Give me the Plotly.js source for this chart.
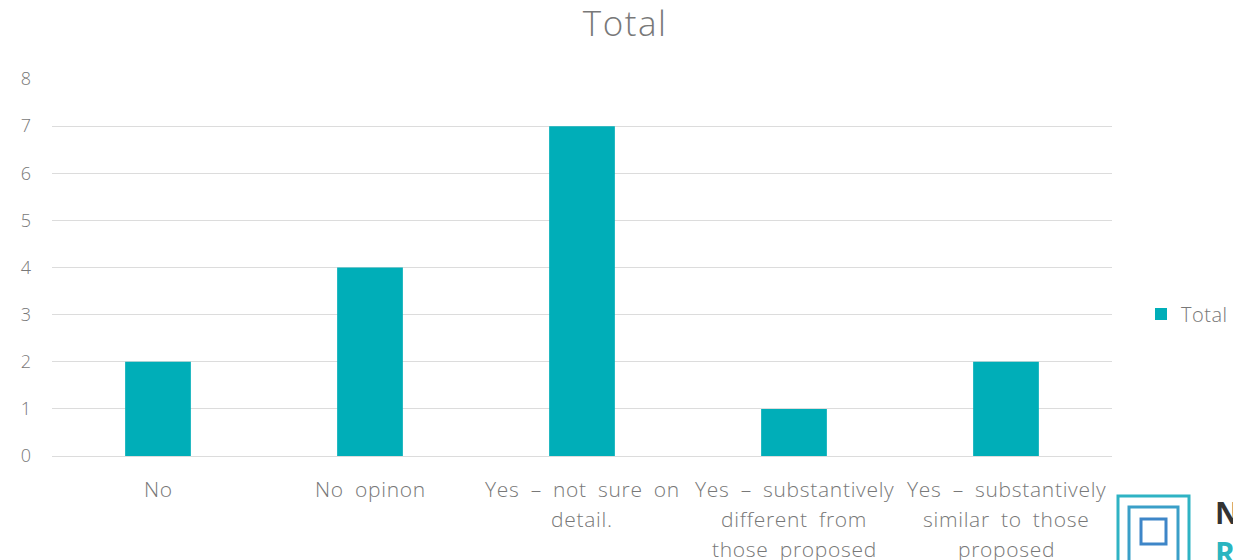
<!DOCTYPE html>
<html><head><meta charset="utf-8">
<script src="https://cdn.plot.ly/plotly-3.0.1.min.js"></script>
<style>
html,body{margin:0;padding:0;background:#fff}#chart{width:1233px;height:560px}
.annotation-text{word-spacing:5px;letter-spacing:0.7px}
.gtitle{letter-spacing:1.5px}
.legendtext{letter-spacing:0.5px}
</style>
</head><body><div id="chart"></div>
<script>
const categories = ["No", "No opinon", "Yes \u2013 not sure on detail.", "Yes \u2013 substantively different from those proposed", "Yes \u2013 substantively similar to those proposed"];
const categoryLines = [["No"], ["No opinon"], ["Yes \u2013 not sure on", "detail."], ["Yes \u2013 substantively", "different from", "those proposed"], ["Yes \u2013 substantively", "similar to those", "proposed"]];
const totals = [2, 4, 7, 1, 2];
const yTicks = [0, 1, 2, 3, 4, 5, 6, 7, 8];

const FONT = "'Open Sans', sans-serif";
const GREY = "#787878";
const PL = 52, PR = 1112, PT = 79, PB = 456;
const trace = {
  type: "bar", x: categories, y: totals, name: "Total",
  marker: {color: "#00AEB8"}, hoverinfo: "y"
};
const shapes = [];
const px = v => (v - PL) / (PR - PL);
const py = v => (PB - v) / (PB - PT);
const sq = [[1118,496,1189,566,"#2fb3c4"],[1129,507,1178,566,"#3a9fc8"],[1141,519,1166,544,"#3e86c8"]];
sq.forEach(s => shapes.push({type:"rect", xref:"paper", yref:"paper",
  x0:px(s[0]), x1:px(s[2]), y0:py(s[3]), y1:py(s[1]),
  line:{color:s[4], width:3}}));
const annotations = [];
categoryLines.forEach((lines, i) => {
  lines.forEach((t, j) => annotations.push({
    xref: "x", yref: "paper", x: categories[i], y: py(489 + j * 30), text: t,
    showarrow: false, xanchor: "center", yanchor: "middle",
    font: {family: FONT, size: 21, color: GREY, weight: 300}
  }));
});
annotations.push(
  {xref:"paper", yref:"paper", x:px(1213), y:py(512), text:"N", showarrow:false,
   xanchor:"left", yanchor:"middle", font:{family:"'Open Sans', sans-serif", size:30, color:"#333", weight:700}},
  {xref:"paper", yref:"paper", x:px(1213), y:py(552), text:"R", showarrow:false,
   xanchor:"left", yanchor:"middle", font:{family:"'Open Sans', sans-serif", size:30, color:"#2bb5c0", weight:700}}
);
const layout = {
  width: 1233, height: 560,
  margin: {l: PL, r: 1233 - PR, t: PT, b: 560 - PB},
  paper_bgcolor: "#fff", plot_bgcolor: "#fff",
  title: {text: "Total", x: 0.507, xanchor: "center", yref: "container", y: 1 - 24/560, yanchor: "middle",
    font: {family: FONT, size: 35, color: GREY, weight: 300}},
  bargap: 0.69,
  xaxis: {type: "category", showticklabels: false, range: [-0.5, 4.5],
    showgrid: false, zeroline: false, showline: false, ticks: "", fixedrange: true},
  yaxis: {range: [0, 8], tickvals: yTicks, ticktext: yTicks.map(String),
    tickfont: {family: FONT, size: 18, color: GREY, weight: 300}, gridcolor: "#dcdcdc", gridwidth: 1.3,
    zeroline: true, zerolinecolor: "#dcdcdc", zerolinewidth: 1.3, ticks: "", ticklabelstandoff: 20, fixedrange: true},
  showlegend: true,
  legend: {xref: "container", yref: "container", x: 1141/1233, y: 1 - 314/560, xanchor: "left", yanchor: "middle",
    font: {family: FONT, size: 20, color: GREY, weight: 300}, itemwidth: 30, bgcolor: "rgba(0,0,0,0)"},
  shapes: shapes,
  annotations: annotations
};
Plotly.newPlot("chart", [trace], layout, {displayModeBar: false, responsive: false});
</script></body></html>
